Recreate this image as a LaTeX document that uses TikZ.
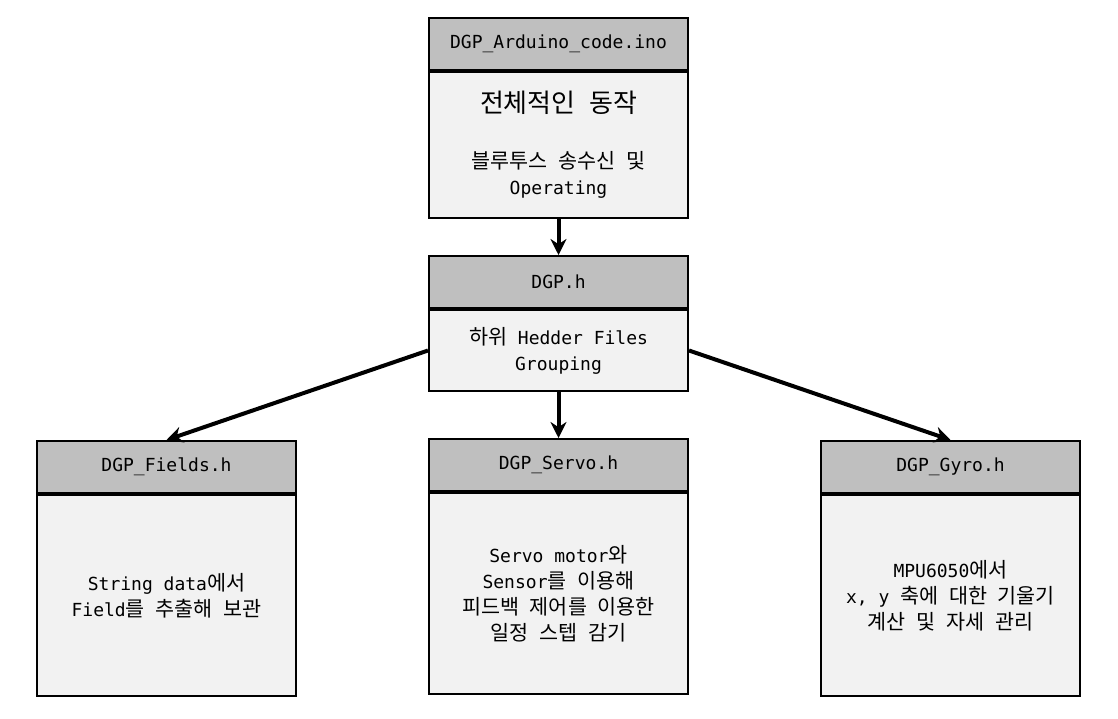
\documentclass[tikz,border=0pt]{standalone}
\usepackage{fontspec}
\setmainfont{DejaVu Sans Mono}
\newfontfamily\kr[Scale=1.15,WordSpace=2.3]{Noto Sans CJK KR}
\usetikzlibrary{arrows.meta}

\definecolor{headgray}{HTML}{BFBFBF}
\definecolor{bodygray}{HTML}{F2F2F2}
\newcommand{\ko}[1]{{\kr #1}}

\begin{document}
\begin{tikzpicture}[
    x=0.5pt,
    y=-0.5pt,
    every node/.style={
        font=\fontsize{9}{13}\selectfont
    },
    file head/.style={
        draw,
        line width=1pt,
        fill=headgray,
        minimum width=129.5pt,
        minimum height=26pt,
        inner sep=0pt,
        anchor=north west
    },
    file body/.style={
        draw,
        line width=1pt,
        fill=bodygray,
        minimum width=129.5pt,
        inner sep=0pt,
        align=center,
        anchor=north
    },
    link/.style={
        draw,
        line width=2pt,
        -{Stealth[length=8pt,width=8pt]}
    },
    ]
    \useasboundingbox (0,0) rectangle (1118,718);

    % main sketch
    \node [file head] (ino head) at (428,17) {DGP\_Arduino\_code.ino};
    \node [file body, minimum height=73pt] (ino body) at (ino head.south)
        {{\fontsize{11.3}{14}\selectfont\ko{전체적인 동작}}\\[15pt]
         \ko{블루투스 송수신 및}\\Operating};

    % group header
    \node [file head] (dgp head) at (428,255) {DGP.h};
    \node [file body, minimum height=40.5pt] (dgp body) at (dgp head.south)
        {\ko{하위} Hedder Files\\Grouping};

    % sub headers
    \node [file head] (fields head) at (36,440) {DGP\_Fields.h};
    \node [file body, minimum height=100.5pt] (fields body) at (fields head.south)
        {String data\ko{에서}\\Field\ko{를 추출해 보관}};

    \node [file head] (servo head) at (428,438) {DGP\_Servo.h};
    \node [file body, minimum height=100.5pt] (servo body) at (servo head.south)
        {Servo motor\ko{와}\\Sensor\ko{를 이용해}\\
         \ko{피드백 제어를 이용한}\\\ko{일정 스텝 감기}};

    \node [file head] (gyro head) at (820,440) {DGP\_Gyro.h};
    \node [file body, minimum height=100.5pt] (gyro body) at (gyro head.south)
        {MPU6050\ko{에서}\\x, y \ko{축에 대한 기울기}\\
         \ko{계산 및 자세 관리}};

    % links
    \draw [link] (ino body.south) -- (dgp head.north);
    \draw [link] (dgp body.west) -- (fields head.north);
    \draw [link] (dgp body.south) -- (servo head.north);
    \draw [link] (dgp body.east) -- (gyro head.north);
\end{tikzpicture}
\end{document}
